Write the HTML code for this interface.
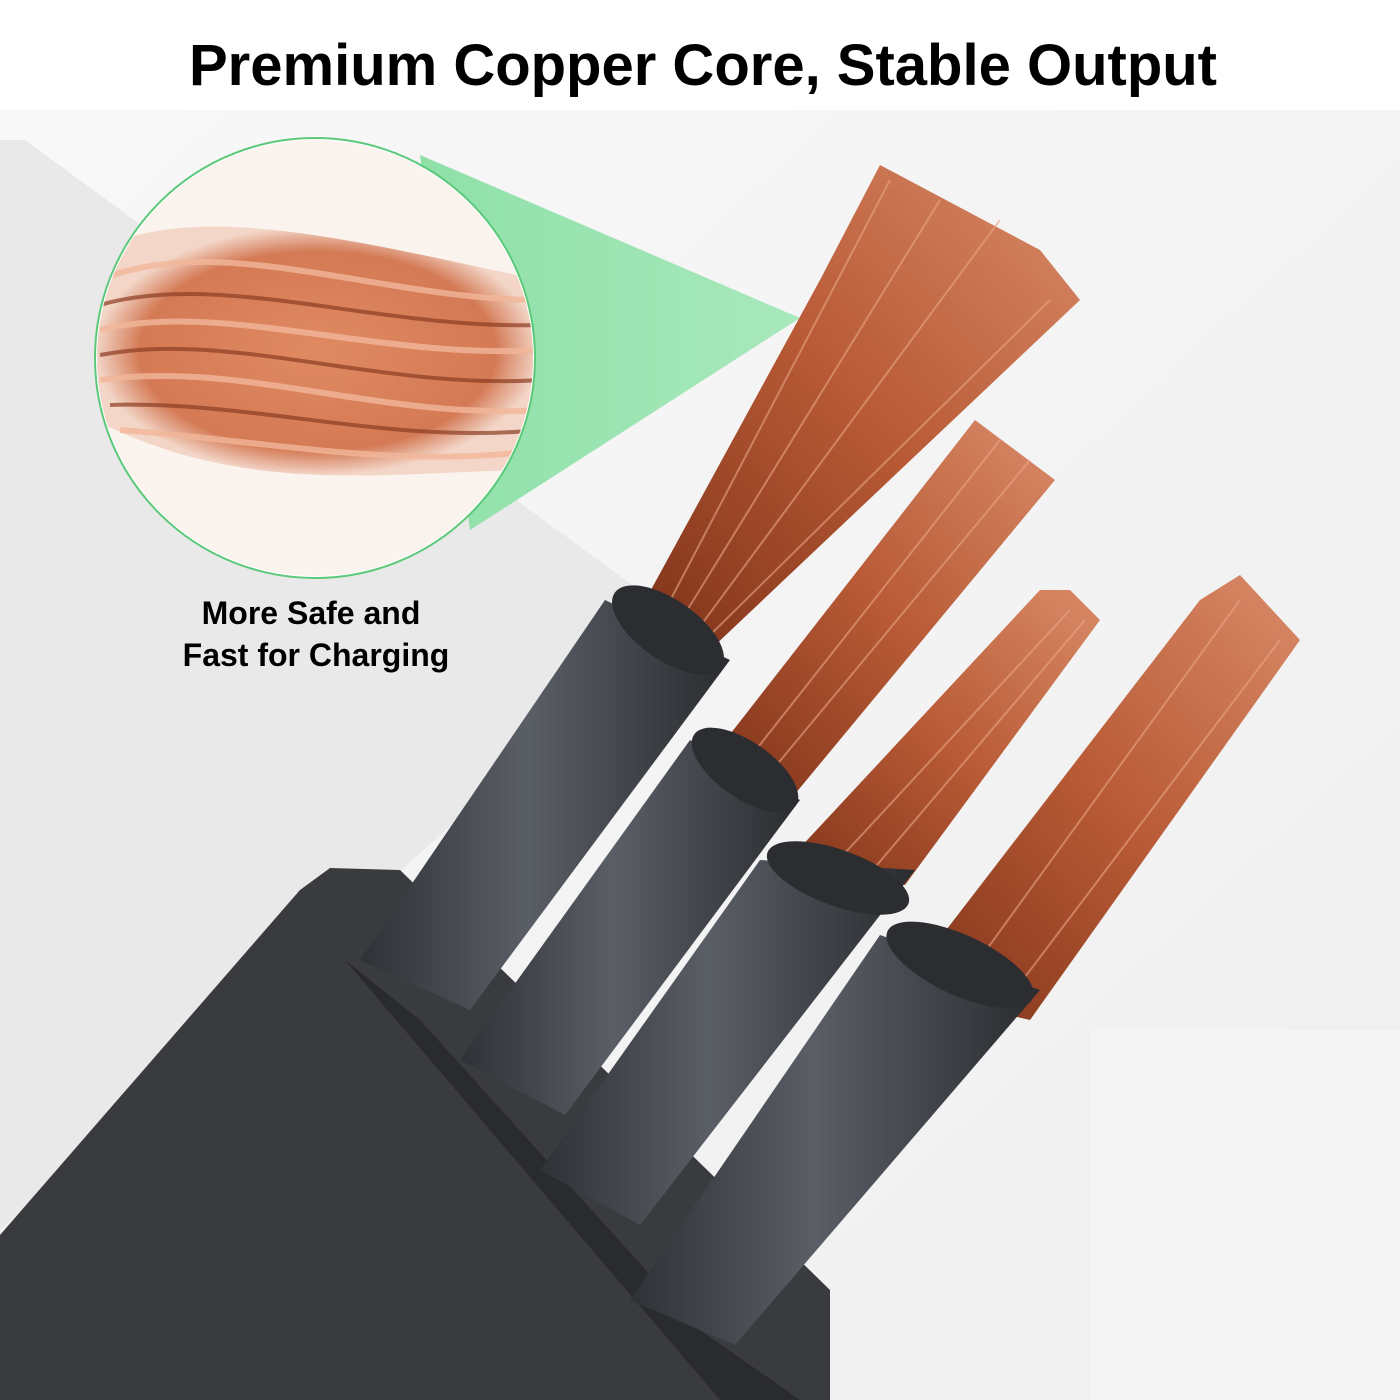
<!DOCTYPE html>
<html><head><meta charset="utf-8"><style>
html,body{margin:0;padding:0;background:#fff}
svg{display:block}
text{font-family:"Liberation Sans","DejaVu Sans",sans-serif;font-weight:bold}
</style></head><body>
<svg width="1400" height="1400" viewBox="0 0 1400 1400" xmlns="http://www.w3.org/2000/svg">
<defs>
<linearGradient id="bg" x1="0" y1="0" x2="1" y2="1">
<stop offset="0" stop-color="#f8f8f8"/><stop offset="1" stop-color="#efefef"/></linearGradient>
<linearGradient id="cu" x1="0" y1="1" x2="1" y2="0">
<stop offset="0" stop-color="#7e3219"/><stop offset="0.5" stop-color="#b85a35"/><stop offset="1" stop-color="#d98a68"/></linearGradient>
<linearGradient id="cyl" x1="0" y1="0" x2="1" y2="0">
<stop offset="0" stop-color="#2e3136"/><stop offset="0.45" stop-color="#5a5e66"/><stop offset="1" stop-color="#2a2c30"/></linearGradient>
<linearGradient id="cone" x1="0" y1="0" x2="1" y2="0">
<stop offset="0" stop-color="#8fe0a8"/><stop offset="1" stop-color="#a8e8bc"/></linearGradient>
<radialGradient id="circ" cx="0.5" cy="0.5" r="0.5">
<stop offset="0" stop-color="#e08a62"/><stop offset="0.8" stop-color="#d47a55"/><stop offset="1" stop-color="#f3d6c8"/></radialGradient>
<clipPath id="cc"><circle cx="315" cy="358" r="218"/></clipPath>
</defs>
<rect width="1400" height="1400" fill="#fff"/>
<rect x="0" y="110" width="1400" height="1290" fill="url(#bg)"/>
<polygon points="0,140 25,140 680,620 0,1230" fill="#e9e9e9"/>
<rect x="1090" y="1030" width="310" height="370" fill="#f4f4f4"/>
<text x="703" y="85" font-size="58" text-anchor="middle" fill="#000">Premium Copper Core, Stable Output</text>
<polygon points="420,155 800,318 470,530" fill="url(#cone)"/>
<circle cx="315" cy="358" r="220" fill="#fff" stroke="#5cc97a" stroke-width="2"/>
<g clip-path="url(#cc)">
<rect x="95" y="140" width="440" height="440" fill="#fbf3ee"/>
<path d="M95,250 C200,200 350,240 540,280 L540,470 C400,470 250,500 95,420 Z" fill="url(#circ)"/>
<g stroke="#f2b79a" stroke-width="6" fill="none" opacity="0.8">
<path d="M100,280 C220,230 380,300 540,300"/>
<path d="M100,330 C220,300 380,360 540,350"/>
<path d="M100,380 C240,360 380,420 540,410"/>
<path d="M120,430 C260,440 400,470 540,450"/>
</g>
<g stroke="#8c3d22" stroke-width="4" fill="none" opacity="0.7">
<path d="M100,305 C220,270 380,330 540,325"/>
<path d="M100,355 C230,330 380,390 540,380"/>
<path d="M110,405 C250,400 390,445 540,430"/>
</g>
</g>
<text x="311" y="624" font-size="32" text-anchor="middle" fill="#000">More Safe and</text>
<text x="316" y="666" font-size="32" text-anchor="middle" fill="#000">Fast for Charging</text>
<path d="M330,868 L400,870 L830,1290 L830,1400 L520,1400 L0,1400 L0,1235 L300,890 Z" fill="#3a3b3e"/>
<path d="M345,960 L420,1020 L700,1330 L800,1400 L720,1400 Z" fill="#2a2b2e"/>
<g fill="url(#cu)">
<polygon points="640,610 710,650 1080,300 1040,250 880,165 820,280"/>
<polygon points="710,760 790,800 1055,480 975,420"/>
<polygon points="770,880 905,885 1100,620 1070,590 1040,590"/>
<polygon points="900,990 1030,1020 1300,640 1240,575 1200,600"/>
</g>
<g stroke="#e8a686" stroke-width="2" opacity="0.6">
<line x1="660" y1="620" x2="890" y2="180"/><line x1="690" y1="640" x2="1000" y2="220"/>
<line x1="675" y1="630" x2="940" y2="200"/><line x1="700" y1="645" x2="1050" y2="300"/>
<line x1="740" y1="770" x2="1000" y2="440"/><line x1="760" y1="785" x2="1030" y2="460"/>
<line x1="820" y1="880" x2="1070" y2="610"/><line x1="860" y1="885" x2="1085" y2="620"/>
<line x1="950" y1="1000" x2="1240" y2="600"/><line x1="1000" y1="1010" x2="1280" y2="640"/>
</g>
<g>
<polygon points="605,600 730,660 470,1010 360,960" fill="url(#cyl)"/>
<ellipse cx="668" cy="630" rx="65" ry="30" transform="rotate(35 668 630)" fill="#2b2d31"/>
<polygon points="690,740 800,800 565,1115 460,1060" fill="url(#cyl)"/>
<ellipse cx="745" cy="770" rx="62" ry="28" transform="rotate(35 745 770)" fill="#2b2d31"/>
<polygon points="760,860 915,870 640,1225 540,1170" fill="url(#cyl)"/>
<ellipse cx="838" cy="878" rx="75" ry="28" transform="rotate(20 838 878)" fill="#2b2d31"/>
<polygon points="880,935 1040,990 735,1345 630,1300" fill="url(#cyl)"/>
<ellipse cx="960" cy="965" rx="80" ry="30" transform="rotate(25 960 965)" fill="#2b2d31"/>
</g>
</svg>
</body></html>
